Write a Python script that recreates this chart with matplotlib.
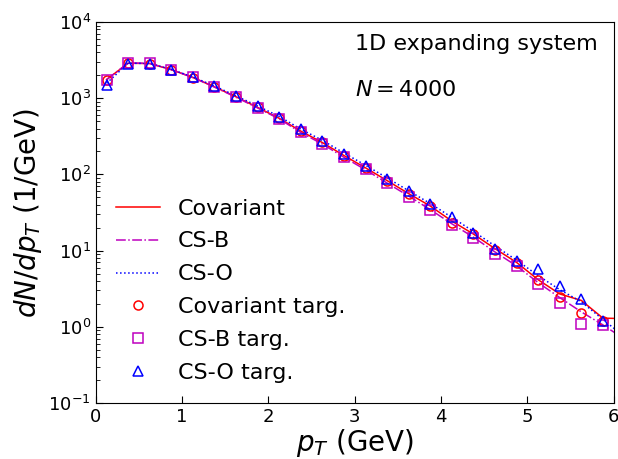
import matplotlib
matplotlib.use("Agg")
import matplotlib.pyplot as plt

# bin centres (GeV)
pt = [0.125, 0.375, 0.625, 0.875, 1.125, 1.375, 1.625, 1.875, 2.125, 2.375, 2.625, 2.875,
      3.125, 3.375, 3.625, 3.875, 4.125, 4.375, 4.625, 4.875, 5.125, 5.375, 5.625, 5.875]
pt_line = pt + [6.125]

# target points
cov_targ = [1740, 2880, 2830, 2360, 1860, 1410, 1045, 760, 550, 370, 265, 177,
            122, 82, 55, 38.5, 23, 16.5, 10.1, 6.9, 4.15, 2.48, 1.53, 1.2]
csb_targ = [1760, 2940, 2880, 2380, 1880, 1400, 1030, 745, 535, 355, 250, 170,
            117, 78, 50, 34.5, 21.5, 14.5, 9.0, 6.3, 3.6, 2.05, 1.1, 1.06]
cso_targ = [1490, 2830, 2830, 2380, 1900, 1440, 1070, 785, 575, 390, 275, 187,
            129, 88, 60, 40.5, 27.3, 17, 10.4, 7.2, 5.7, 3.4, 2.3, 1.2]

# full calculations
cov_line = [1760, 2880, 2850, 2370, 1870, 1410, 1045, 757, 545, 370, 262, 177,
            122, 83, 56, 38.5, 24.4, 16.5, 10.6, 7.0, 4.15, 2.7, 2.22, 1.3, 1.28]
csb_line = [1750, 2910, 2870, 2380, 1870, 1400, 1030, 745, 535, 355, 250, 168,
            115, 77, 52, 34.5, 22.5, 15, 9.6, 6.3, 3.8, 2.42, 1.57, 1.06, 0.69]
cso_line = [1570, 2880, 2860, 2390, 1900, 1445, 1075, 790, 578, 393, 280, 191,
            132, 90, 61, 41.5, 27.3, 17.9, 11.5, 7.5, 4.7, 3.07, 2.13, 1.25, 0.74]

fig = plt.figure(figsize=(6.18, 4.59), dpi=100)
ax = fig.add_axes([0.155, 0.122, 0.838, 0.830])

ax.plot(pt_line, cov_line, 'r-', lw=1.1, label='Covariant')
ax.plot(pt_line, csb_line, 'm-.', lw=1.1, label='CS-B')
ax.plot(pt_line, cso_line, 'b:', lw=1.1, label='CS-O')
ax.plot(pt, cov_targ, 'o', mfc='none', mec='r', ms=6.5, mew=1.1, ls='none', label='Covariant targ.')
ax.plot(pt, csb_targ, 's', mfc='none', mec='m', ms=6.5, mew=1.1, ls='none', label='CS-B targ.')
ax.plot(pt, cso_targ, '^', mfc='none', mec='b', ms=6.5, mew=1.1, ls='none', label='CS-O targ.')

ax.set_yscale('log')
ax.set_xlim(0, 6)
ax.set_ylim(0.1, 1e4)
ax.tick_params(which='both', direction='in', labelsize=13)
ax.tick_params(which='major', length=5)
ax.tick_params(which='minor', length=3)
ax.set_xlabel(r'$p_T$ (GeV)', fontsize=20, labelpad=1)
ax.set_ylabel(r'$dN/dp_T$ (1/GeV)', fontsize=20, labelpad=3)

ax.text(0.5, 0.942, '1D expanding system', transform=ax.transAxes, fontsize=16, va='center')
ax.text(0.5, 0.822, r'$N=4000$', transform=ax.transAxes, fontsize=16, va='center')

ax.legend(loc='lower left', fontsize=16, frameon=False, numpoints=1,
          labelspacing=0.58, handlelength=2.0)

fig.savefig('out.png', dpi=100)
